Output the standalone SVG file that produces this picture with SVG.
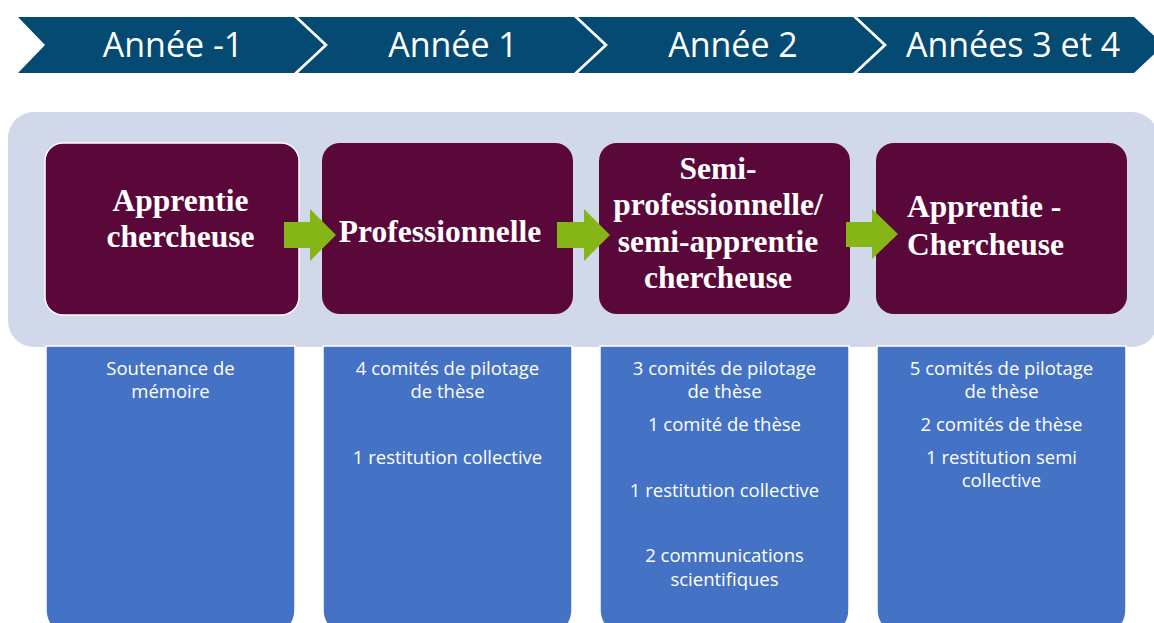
<svg xmlns="http://www.w3.org/2000/svg" width="1154" height="623" viewBox="0 0 1154 623">
  <style>
    .chev { fill: #044A72; }
    .year { font-family: "Open Sans", "Noto Sans", sans-serif; font-size: 34px; fill: #FFFFFF; text-anchor: middle; }
    .panel { fill: #D1D8EA; }
    .phase { fill: #590839; }
    .phase-t { font-family: "Liberation Serif", "Times New Roman", serif; font-weight: bold; font-size: 31.5px; fill: #FFFFFF; text-anchor: middle; }
    .phase-l { font-family: "Liberation Serif", "Times New Roman", serif; font-weight: bold; font-size: 31.5px; fill: #FFFFFF; text-anchor: start; }
    .detail { fill: #4472C4; stroke: #FFFFFF; stroke-width: 1.5; }
    .detail-t { font-family: "Open Sans", "Noto Sans", sans-serif; font-size: 18.5px; fill: #FFFFFF; text-anchor: middle; }
    .arrow { fill: #86B517; }
  </style>
  <rect width="1154" height="623" fill="#FFFFFF"/>

  <g id="banner">
    <g id="year-m1">
      <polygon class="chev" points="18,17 294,17 324,45 294,73 18,73 45,45"/>
      <text class="year" x="173" y="57">Année -1</text>
    </g>
    <g id="year-1">
      <polygon class="chev" points="298,17 574,17 604,45 574,73 298,73 328,45"/>
      <text class="year" x="453" y="57">Année 1</text>
    </g>
    <g id="year-2">
      <polygon class="chev" points="578,17 853,17 883,45 853,73 578,73 608,45"/>
      <text class="year" x="733" y="57">Année 2</text>
    </g>
    <g id="year-3-4">
      <polygon class="chev" points="857,17 1134,17 1164,45 1134,73 857,73 887,45"/>
      <text class="year" x="1013" y="57">Années 3 et 4</text>
    </g>
  </g>

  <rect id="panel" class="panel" x="8" y="112" width="1150" height="235" rx="26" ry="26"/>

  <g id="detail-1">
    <path class="detail" d="M46,346 H295 V610 A26,26 0 0 1 269,636 H72 A26,26 0 0 1 46,610 Z"/>
    <text class="detail-t" x="170.5" y="375">Soutenance de</text>
    <text class="detail-t" x="170.5" y="398">mémoire</text>
  </g>
  <g id="detail-2">
    <path class="detail" d="M323,346 H572 V610 A26,26 0 0 1 546,636 H349 A26,26 0 0 1 323,610 Z"/>
    <text class="detail-t" x="447.5" y="375">4 comités de pilotage</text>
    <text class="detail-t" x="447.5" y="398">de thèse</text>
    <text class="detail-t" x="447.5" y="464">1 restitution collective</text>
  </g>
  <g id="detail-3">
    <path class="detail" d="M600,346 H849 V610 A26,26 0 0 1 823,636 H626 A26,26 0 0 1 600,610 Z"/>
    <text class="detail-t" x="724.5" y="375">3 comités de pilotage</text>
    <text class="detail-t" x="724.5" y="398">de thèse</text>
    <text class="detail-t" x="724.5" y="431">1 comité de thèse</text>
    <text class="detail-t" x="724.5" y="497">1 restitution collective</text>
    <text class="detail-t" x="724.5" y="562">2 communications</text>
    <text class="detail-t" x="724.5" y="586">scientifiques</text>
  </g>
  <g id="detail-4">
    <path class="detail" d="M877,346 H1126 V610 A26,26 0 0 1 1100,636 H903 A26,26 0 0 1 877,610 Z"/>
    <text class="detail-t" x="1001.5" y="375">5 comités de pilotage</text>
    <text class="detail-t" x="1001.5" y="398">de thèse</text>
    <text class="detail-t" x="1001.5" y="431">2 comités de thèse</text>
    <text class="detail-t" x="1001.5" y="464">1 restitution semi</text>
    <text class="detail-t" x="1001.5" y="487">collective</text>
  </g>

  <g id="phase-1">
    <rect class="phase" x="45" y="143" width="254" height="172" rx="18" ry="18" stroke="#FFFFFF" stroke-width="1.5"/>
    <text class="phase-t" x="180.5" y="211">Apprentie</text>
    <text class="phase-t" x="180.5" y="247">chercheuse</text>
  </g>
  <g id="phase-2">
    <rect class="phase" x="322" y="143" width="251" height="171" rx="18" ry="18"/>
    <text class="phase-t" x="440" y="242">Professionnelle</text>
  </g>
  <g id="phase-3">
    <rect class="phase" x="599" y="143" width="251" height="171" rx="18" ry="18"/>
    <text class="phase-t" x="718" y="179">Semi-</text>
    <text class="phase-t" x="718" y="215">professionnelle/</text>
    <text class="phase-t" x="718" y="252">semi-apprentie</text>
    <text class="phase-t" x="718" y="288">chercheuse</text>
  </g>
  <g id="phase-4">
    <rect class="phase" x="876" y="143" width="251" height="171" rx="18" ry="18"/>
    <text class="phase-l" x="907" y="217">Apprentie -</text>
    <text class="phase-l" x="907" y="255">Chercheuse</text>
  </g>

  <g id="connectors">
    <polygon class="arrow" points="284,222 310,222 310,209 336,235 310,261 310,248 284,248"/>
    <polygon class="arrow" points="557,222 584,222 584,209 610,235 584,261 584,248 557,248"/>
    <polygon class="arrow" points="846,222 872,222 872,209 898,234 872,259 872,247 846,247"/>
  </g>
</svg>
